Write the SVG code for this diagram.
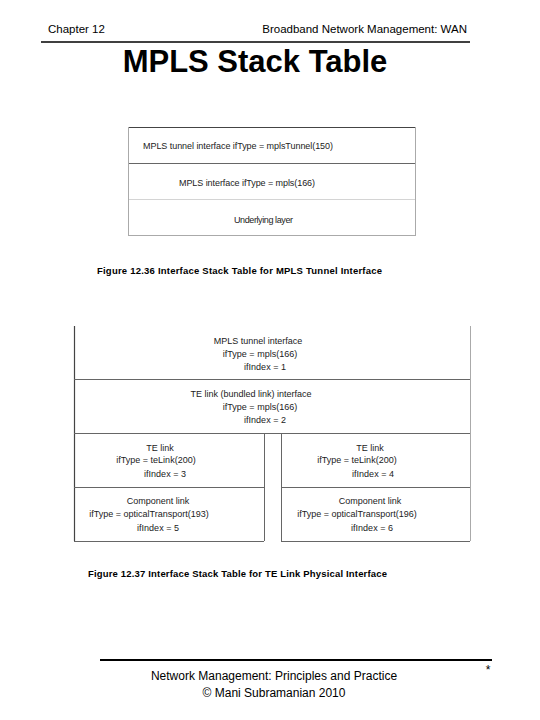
<svg xmlns="http://www.w3.org/2000/svg" width="540" height="720" viewBox="0 0 540 720">
<style>
  text { font-family: "Liberation Sans", Arial, sans-serif; fill: #000; }
  .hdr { font-size: 11.5px; }
  .title { font-size: 31px; font-weight: bold; }
  .cell { font-size: 9px; fill: #222; }
  .mid { text-anchor: middle; }
  .cap { font-size: 9.5px; font-weight: bold; }
  .foot { font-size: 12px; }
  .ln { stroke: #666; stroke-width: 1; fill: none; }
  .dk { stroke: #444; stroke-width: 1.2; fill: none; }
  .lt { stroke: #aaa; stroke-width: 1; fill: none; }
  .lt2 { stroke: #d4d4d4; stroke-width: 1; fill: none; }
</style>
<rect width="540" height="720" fill="#fff"/>

<g id="header">
  <text class="hdr" x="48" y="33">Chapter 12</text>
  <text class="hdr" x="467" y="33" text-anchor="end">Broadband Network Management:  WAN</text>
  <line x1="41" y1="42" x2="470" y2="42" stroke="#000" stroke-width="1.6"/>
  <text class="title mid" x="255" y="72">MPLS Stack Table</text>
</g>

<g id="fig1">
  <g id="f1-tunnel">
    <line class="dk" x1="128" y1="127.5" x2="416" y2="127.5"/>
    <text class="cell" x="143" y="149" textLength="190">MPLS tunnel interface ifType = mplsTunnel(150)</text>
  </g>
  <g id="f1-mpls">
    <line class="ln" x1="128" y1="163.5" x2="416" y2="163.5"/>
    <text class="cell" x="179" y="186" textLength="136">MPLS interface ifType = mpls(166)</text>
  </g>
  <g id="f1-underlying">
    <line class="lt2" x1="128" y1="199.5" x2="416" y2="199.5"/>
    <text class="cell" x="234" y="223" textLength="59">Underlying layer</text>
  </g>
  <line class="lt" x1="128.5" y1="127" x2="128.5" y2="235"/>
  <line class="lt" x1="415.5" y1="127" x2="415.5" y2="235"/>
  <line class="lt" x1="128" y1="235.5" x2="416" y2="235.5"/>
  <text class="cap" x="97" y="274" textLength="285">Figure 12.36  Interface Stack Table for MPLS Tunnel Interface</text>
</g>

<g id="fig2">
  <line class="dk" x1="74.5" y1="326" x2="74.5" y2="541"/>
  <line class="lt" x1="470.5" y1="326" x2="470.5" y2="541"/>
  <g id="f2-tunnel">
    <text class="cell mid" x="258" y="344">MPLS tunnel interface</text>
    <text class="cell mid" x="260" y="357">ifType = mpls(166)</text>
    <text class="cell mid" x="265" y="370">ifIndex = 1</text>
  </g>
  <line class="ln" x1="74" y1="379.5" x2="470" y2="379.5"/>
  <g id="f2-telink-bundled">
    <text class="cell mid" x="251" y="397">TE link (bundled link) interface</text>
    <text class="cell mid" x="260" y="410">ifType = mpls(166)</text>
    <text class="cell mid" x="265" y="423">ifIndex = 2</text>
  </g>
  <line class="ln" x1="74" y1="433.5" x2="470" y2="433.5"/>
  <g id="f2-telink3">
    <text class="cell mid" x="160" y="451">TE link</text>
    <text class="cell mid" x="156" y="463">ifType = teLink(200)</text>
    <text class="cell mid" x="165" y="477">ifIndex = 3</text>
  </g>
  <g id="f2-telink4">
    <text class="cell mid" x="370" y="451">TE link</text>
    <text class="cell mid" x="357" y="463">ifType = teLink(200)</text>
    <text class="cell mid" x="373" y="477">ifIndex = 4</text>
  </g>
  <line class="ln" x1="264.5" y1="433" x2="264.5" y2="541"/>
  <line class="ln" x1="281.5" y1="433" x2="281.5" y2="541"/>
  <line class="ln" x1="74" y1="487.5" x2="264" y2="487.5"/>
  <line class="ln" x1="281" y1="487.5" x2="470" y2="487.5"/>
  <g id="f2-component5">
    <text class="cell mid" x="158" y="504">Component link</text>
    <text class="cell mid" x="149" y="517">ifType = opticalTransport(193)</text>
    <text class="cell mid" x="158" y="531">ifIndex = 5</text>
  </g>
  <g id="f2-component6">
    <text class="cell mid" x="370" y="504">Component link</text>
    <text class="cell mid" x="357" y="517">ifType = opticalTransport(196)</text>
    <text class="cell mid" x="372" y="531">ifIndex = 6</text>
  </g>
  <line class="ln" x1="74" y1="541.5" x2="264" y2="541.5"/>
  <line class="ln" x1="281" y1="541.5" x2="470" y2="541.5"/>
  <text class="cap" x="88" y="577" textLength="299">Figure 12.37  Interface Stack Table for TE Link Physical Interface</text>
</g>

<g id="footer">
  <line x1="100" y1="660" x2="492" y2="660" stroke="#000" stroke-width="2"/>
  <text class="foot" x="488" y="674" text-anchor="middle">*</text>
  <text class="foot mid" x="274" y="680">Network Management: Principles and Practice</text>
  <text class="foot mid" x="274" y="697">©  Mani Subramanian 2010</text>
</g>

<g id="connectors"></g>
</svg>
